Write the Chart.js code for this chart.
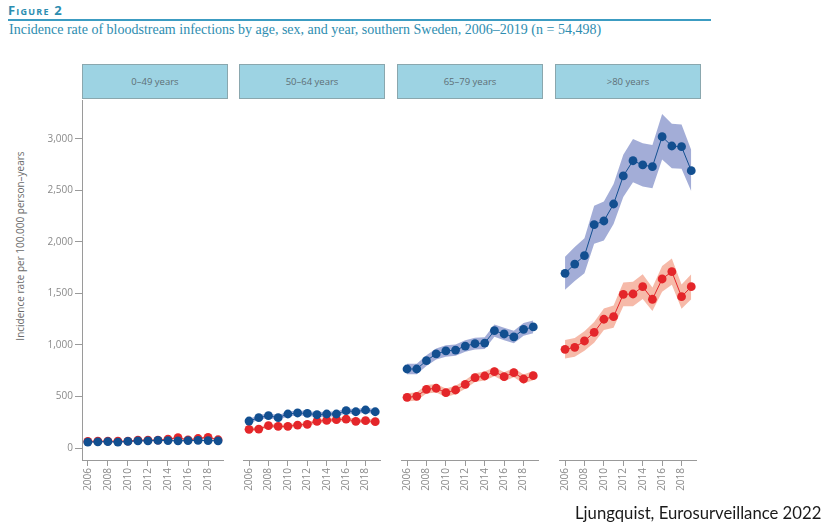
<!DOCTYPE html>
<html>
<head>
<meta charset="utf-8">
<script src="https://cdn.jsdelivr.net/npm/chart.js@4.4.1/dist/chart.umd.min.js"></script>
<style>
  html, body { margin: 0; padding: 0; background: #fff; }
  body { width: 825px; height: 527px; position: relative; overflow: hidden; font-family: "Open Sans", sans-serif; }
  .fig { position: absolute; left: 8px; top: 1px; font: bold 13px "Open Sans", sans-serif; font-variant: small-caps; color: #2b8db0; letter-spacing: 1.2px; }
  .rule { position: absolute; left: 8px; top: 19px; width: 703px; height: 2px; background: #3c9cc2; }
  .sub { position: absolute; left: 9px; top: 22px; font: 14px "Liberation Serif", serif; color: #2e8db0; white-space: nowrap; }
  .hdr { position: absolute; top: 64px; height: 33px; width: 144px; background: #9dd3e3; border: 1px solid #8aa7ae;
         color: #5d6f76; font: 9.5px "Open Sans", sans-serif; display: flex; align-items: center; justify-content: center; }
  canvas.p { position: absolute; top: 90px; }
  .ytitle { position: absolute; left: -130px; top: 239px; width: 300px; height: 14px; line-height: 14px; text-align: center;
            transform: rotate(-90deg); font: 10px "Open Sans", sans-serif; color: #6a6a6a; white-space: nowrap; }
  .src { position: absolute; left: 575px; top: 503px; font: 16.7px "Lato", sans-serif; color: #1a1a1a; white-space: nowrap; }
</style>
</head>
<body>
<div class="fig">Figure 2</div>
<div class="rule"></div>
<div class="sub">Incidence rate of bloodstream infections by age, sex, and year, southern Sweden, 2006–2019 (n = 54,498)</div>

<div class="hdr" style="left:82px">0–49 years</div>
<div class="hdr" style="left:239px">50–64 years</div>
<div class="hdr" style="left:397px">65–79 years</div>
<div class="hdr" style="left:555px">&gt;80 years</div>

<div class="ytitle">Incidence rate per 100.000 person–years</div>

<canvas id="c0" class="p" width="228" height="420" style="left:0px"></canvas>
<canvas id="c1" class="p" width="146" height="420" style="left:239px"></canvas>
<canvas id="c2" class="p" width="146" height="420" style="left:397px"></canvas>
<canvas id="c3" class="p" width="146" height="420" style="left:555px"></canvas>

<div class="src">Ljungquist, Eurosurveillance 2022</div>

<script>
// Study years and axis ticks
const years = [2006, 2007, 2008, 2009, 2010, 2011, 2012, 2013, 2014, 2015, 2016, 2017, 2018, 2019];
const xTickYears = [2006, 2008, 2010, 2012, 2014, 2016, 2018];
const yTickValues = [0, 500, 1000, 1500, 2000, 2500, 3000];
const yTickLabels = ['0', '500', '1,000', '1,500', '2,000', '2,500', '3,000'];

// Incidence per 100,000 person-years, with 95% CI half-widths
// 0–49 years
const men049 = [58, 60, 62, 58, 64, 70, 70, 74, 72, 70, 72, 74, 72, 70];
const men049Ci = [7, 7, 7, 7, 7, 7, 7, 7, 7, 7, 7, 7, 7, 7];
const women049 = [64, 66, 66, 66, 66, 76, 76, 76, 86, 100, 78, 92, 104, 80];
const women049Ci = [8, 8, 8, 8, 8, 8, 8, 8, 8, 9, 8, 9, 9, 8];
// 50–64 years
const men5064 = [262, 294, 314, 294, 330, 340, 336, 323, 330, 330, 362, 352, 369, 352];
const men5064Ci = [22, 23, 23, 23, 24, 24, 24, 24, 24, 24, 25, 25, 25, 25];
const women5064 = [181, 184, 217, 210, 210, 223, 230, 259, 269, 275, 281, 259, 265, 256];
const women5064Ci = [18, 18, 19, 19, 19, 19, 20, 21, 21, 21, 21, 21, 21, 21];
// 65–79 years
const men6579 = [767, 767, 848, 913, 942, 951, 990, 1013, 1019, 1139, 1107, 1078, 1152, 1175];
const men6579Ci = [52, 52, 53, 54, 55, 55, 56, 57, 57, 60, 60, 60, 62, 62];
const women6579 = [492, 502, 570, 580, 537, 563, 618, 683, 699, 741, 692, 731, 670, 702];
const women6579Ci = [40, 40, 41, 41, 41, 42, 42, 43, 44, 45, 44, 45, 44, 45];
// >80 years
const men80 = [1696, 1786, 1867, 2168, 2204, 2369, 2641, 2789, 2748, 2731, 3022, 2932, 2925, 2692];
const men80Ci = [160, 165, 170, 185, 190, 195, 205, 210, 210, 210, 220, 215, 215, 200];
const women80 = [958, 977, 1039, 1123, 1250, 1275, 1492, 1495, 1566, 1444, 1641, 1712, 1469, 1566];
const women80Ci = [90, 92, 95, 100, 105, 108, 115, 118, 120, 115, 125, 128, 118, 122];

// Shared scale ranges (same vertical scale in every panel)
const yMin = -116.5, yMax = 3378.6;
const xMin = 2005.42, xMax = 2019.55;

const BLUE = '#124f90', BLUE_BAND = 'rgba(128,142,200,0.72)';
const RED = '#e4262a', RED_BAND = 'rgba(243,160,136,0.72)';
const AXIS = '#9a9a9a', TICK_TEXT = '#8a8a8a';

const pts = vals => years.map((yr, i) => ({ x: yr, y: vals[i] }));
const lo = (vals, ci) => years.map((yr, i) => ({ x: yr, y: vals[i] - ci[i] }));
const hi = (vals, ci) => years.map((yr, i) => ({ x: yr, y: vals[i] + ci[i] }));

// Rotated year labels under each panel
const yearLabels = {
  id: 'yearLabels',
  afterDraw(chart) {
    const ctx = chart.ctx, xs = chart.scales.x;
    ctx.save();
    ctx.font = '10px "Open Sans", sans-serif';
    ctx.fillStyle = TICK_TEXT;
    ctx.textAlign = 'right';
    ctx.textBaseline = 'middle';
    xTickYears.forEach(yr => {
      const px = xs.getPixelForValue(yr);
      ctx.save();
      ctx.translate(px, chart.chartArea.bottom + 8);
      ctx.rotate(-Math.PI / 2);
      ctx.fillText(String(yr), 0, 0);
      ctx.restore();
    });
    ctx.restore();
  }
};

function band(data, color) {
  return { data, borderWidth: 0, pointRadius: 0, backgroundColor: color, tension: 0 };
}
function line(data, color, order) {
  return { data, order, borderColor: color, borderWidth: 1, backgroundColor: color,
           pointRadius: 4.4, pointBorderWidth: 0, pointBackgroundColor: color, tension: 0, fill: false };
}

function makePanel(id, men, menCi, women, womenCi, showY) {
  new Chart(document.getElementById(id), {
    type: 'line',
    data: {
      datasets: [
        Object.assign(band(hi(men, menCi), BLUE_BAND), { fill: '+1', order: 10 }),
        Object.assign(band(lo(men, menCi), BLUE_BAND), { fill: false, order: 10 }),
        Object.assign(band(hi(women, womenCi), RED_BAND), { fill: '+1', order: 9 }),
        Object.assign(band(lo(women, womenCi), RED_BAND), { fill: false, order: 9 }),
        line(pts(women), RED, 2),
        line(pts(men), BLUE, 1)
      ]
    },
    options: {
      responsive: false,
      animation: false,
      devicePixelRatio: 1,
      layout: { padding: { top: 10, bottom: 0, left: 0, right: 0 } },
      plugins: { legend: { display: false }, tooltip: { enabled: false } },
      scales: {
        x: {
          type: 'linear', min: xMin, max: xMax,
          afterBuildTicks: s => { s.ticks = xTickYears.map(v => ({ value: v })); },
          afterFit: s => { s.height = 50; },
          border: { display: true, color: AXIS, width: 1 },
          grid: { drawOnChartArea: false, drawTicks: true, tickLength: 6, color: AXIS },
          ticks: { display: false }
        },
        y: {
          type: 'linear', min: yMin, max: yMax,
          display: showY,
          afterBuildTicks: s => { s.ticks = yTickValues.map(v => ({ value: v })); },
          afterFit: s => { s.width = showY ? 82 : 0; },
          border: { display: true, color: AXIS, width: 1 },
          grid: { drawOnChartArea: false, drawTicks: true, tickLength: 7, color: AXIS },
          ticks: { padding: 2, color: TICK_TEXT, font: { family: 'Open Sans', size: 10 },
                   callback: (v, i) => yTickLabels[i] }
        }
      }
    },
    plugins: [yearLabels]
  });
}

makePanel('c0', men049, men049Ci, women049, women049Ci, true);
makePanel('c1', men5064, men5064Ci, women5064, women5064Ci, false);
makePanel('c2', men6579, men6579Ci, women6579, women6579Ci, false);
makePanel('c3', men80, men80Ci, women80, women80Ci, false);
</script>
</body>
</html>
